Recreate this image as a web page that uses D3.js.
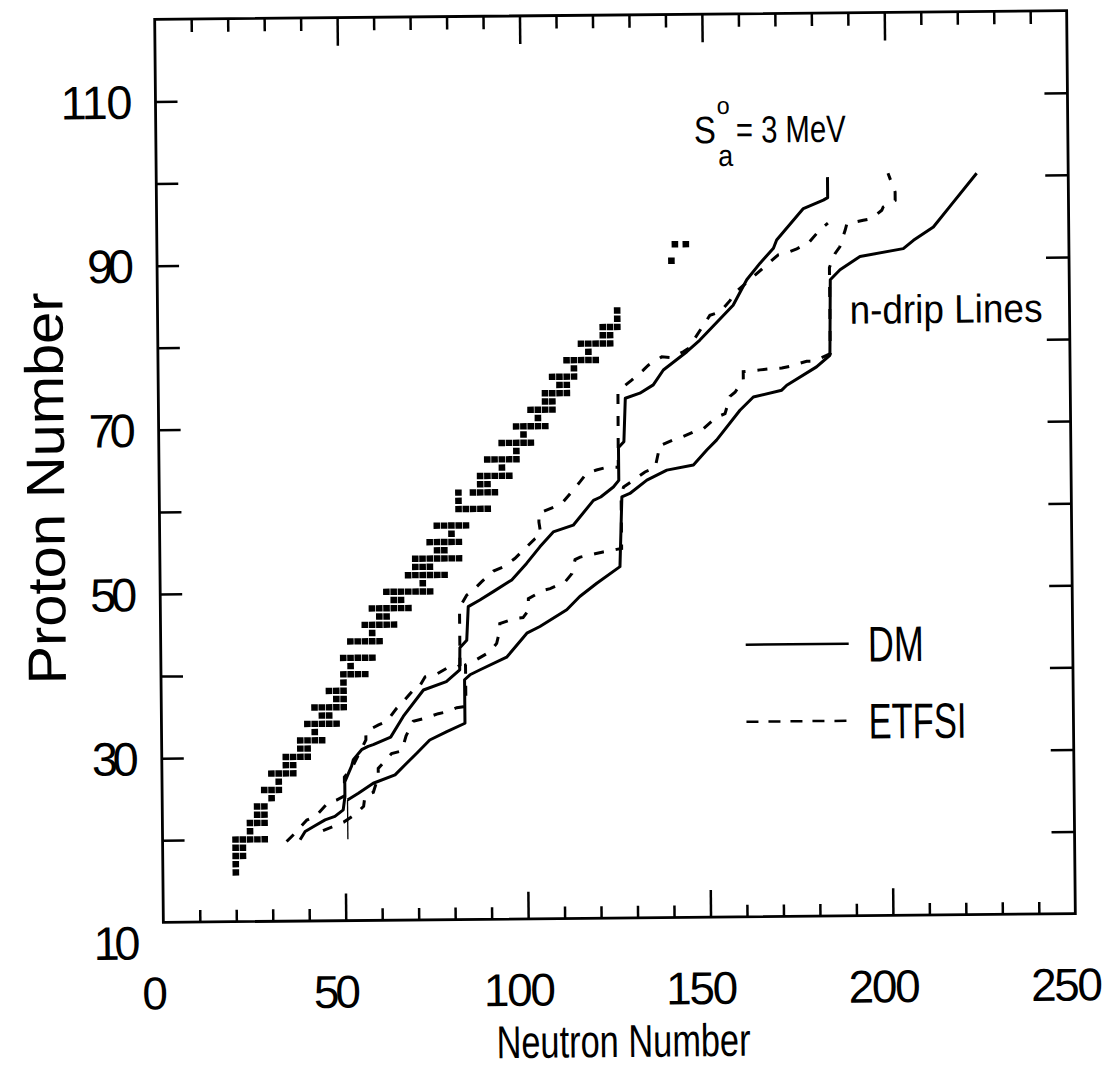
<!DOCTYPE html>
<html lang="en">
<head>
<meta charset="utf-8">
<title>n-drip lines</title>
<script src="https://d3js.org/d3.v7.min.js"></script>
<style>
  body, html { margin: 0; padding: 0; background: #fff; }
  svg { display: block; }
  text { fill: #000; font-family: "Liberation Sans Narrow", "Arial Narrow", "Liberation Sans", sans-serif; }
</style>
</head>
<body>
<div id="chart"></div>
<script>
// tick values and labels
var xMinorTicks = [10, 20, 30, 40, 60, 70, 80, 90, 110, 120, 130, 140, 160, 170, 180, 190, 210, 220, 230, 240]
var xMajorTicks = [50, 100, 150, 200]
var xLabels = [0, 50, 100, 150, 200, 250]
var yTicks = [20, 30, 40, 50, 60, 70, 80, 90, 100, 110]
var yLabels = [10, 30, 50, 70, 90, 110]

// nuclei on the path (neutron number, proton number)
var pathNuclei = [[20,16],[20,17],[20,18],[22,18],[20,19],[22,19],[20,20],[22,20],[24,20],[26,20],[28,20],
  [24,21],[24,22],[26,22],[28,22],[26,23],[28,23],[26,24],[28,24],[30,25],[28,26],[30,26],[32,26],[32,27],
  [30,28],[32,28],[34,28],[36,28],[34,29],[36,29],[34,30],[36,30],[38,30],[40,30],[38,31],[40,31],
  [38,32],[40,32],[42,32],[44,32],[42,33],[40,34],[42,34],[44,34],[46,34],[48,34],[44,35],[46,35],
  [42,36],[44,36],[46,36],[48,36],[50,36],[48,37],[50,37],[46,38],[48,38],[50,38],[50,39],
  [50,40],[52,40],[54,40],[56,40],[52,41],[50,42],[52,42],[54,42],[56,42],[58,42],
  [52,44],[54,44],[56,44],[58,44],[60,44],[58,45],[56,46],[58,46],[60,46],[62,46],[64,46],[60,47],[62,47],
  [58,48],[60,48],[62,48],[64,48],[66,48],[68,48],[64,49],[66,49],
  [62,50],[64,50],[66,50],[68,50],[70,50],[72,50],[74,50],[72,51],
  [68,52],[70,52],[72,52],[74,52],[76,52],[78,52],[70,53],[72,53],[74,53],
  [70,54],[72,54],[74,54],[76,54],[78,54],[80,54],[82,54],[76,55],[78,55],
  [74,56],[76,56],[78,56],[80,56],[82,56],[80,57],[76,58],[78,58],[80,58],[82,58],[84,58],
  [82,60],[84,60],[86,60],[88,60],[90,60],[82,61],[82,62],[86,62],[88,62],[90,62],[92,62],[88,63],[90,63],
  [88,64],[90,64],[92,64],[94,64],[96,64],[94,65],[90,66],[92,66],[94,66],[96,66],[98,66],[98,67],
  [94,68],[96,68],[98,68],[100,68],[102,68],[100,69],[98,70],[100,70],[102,70],[104,70],[106,70],[104,71],
  [102,72],[104,72],[106,72],[108,72],[106,73],[108,73],[106,74],[108,74],[110,74],[112,74],[110,75],[112,75],
  [108,76],[110,76],[112,76],[114,76],[114,77],[112,78],[114,78],[116,78],[118,78],[120,78],[118,79],
  [116,80],[118,80],[120,80],[122,80],[124,80],[122,81],[124,81],[122,82],[124,82],[126,82],[126,83],[126,84],
  [141,90],[142,92],[145,92]]

// DM, S_a = 3 MeV
var dmS3 = [[37.7,19.9],[39.1,20.9],[41.8,21.6],[44.6,22.3],[47.3,22.7],[49.6,23.5],[50.1,25.1],[50.1,26.9],
  [52,28.8],[52.5,29.6],[54.8,30.8],[56.6,31.2],[58,31.4],[62.8,32.3],[66.3,34.8],[71.9,38],[78.2,39],[81.9,40.4],
  [82,43.1],[83.9,44],[84.4,48.1],[87.6,48.9],[91.3,49.9],[96.4,51.3],[100.5,53.3],[104.2,55.3],[107.9,57.1],
  [113.4,57.9],[119,60.9],[121,61.3],[124.5,62.5],[126,63.3],[126,67.3],[127.5,68],[128,73.3],[132,73.9],
  [135.7,74.9],[138.5,76.7],[145,78.9],[148.6,80.3],[157.8,84.5],[161.6,87.6],[165.3,89.6],[169,91.4],
  [169.9,92.4],[177.3,96.2],[182.8,97.2],[184,97.5],[184,100]]

// ETFSI, S_a = 3 MeV
var etfsiS3 = [[34,19.7],[36.3,20.7],[39.6,22.3],[41.9,22.7],[45.5,24.4],[47.8,24.7],[50,25.2],[50,27.5],
  [52,28.5],[56,32],[56,33],[59.5,33.8],[61.7,34.2],[64.5,35.8],[65.9,36.4],[69.1,38],[70.5,38.2],[72.4,39.6],
  [75.1,39.8],[78.3,40.6],[81.1,40.7],[82,41],[82,48],[84,49.5],[85.8,50.1],[88.1,51.1],[91.4,52.4],[94.1,52.9],
  [97.3,53.9],[99.6,54.9],[102.9,56.3],[104.5,56.8],[104,58.3],[104,59.4],[108.5,60.2],[110.8,60.8],[113.5,62.2],
  [115.4,63.2],[117.2,64.2],[119.9,64.6],[122.7,64.9],[125.9,64.9],[126,74],[127.5,74.7],[129.8,75.5],[133,76.7],
  [134.4,77.3],[138.1,78.3],[140.8,78.2],[144,78.9],[145.4,79.3],[151.4,83.3],[154.2,83.7],[157,85.1],[158.3,86],
  [170.3,90.6],[172.6,90.8],[175.4,91.3],[178.6,92],[181.8,93.6],[184,94.4]]

// DM, neutron drip line
var dmDripStart = [[50.8,19.9],[50.8,24.7]]
var dmDrip = [[50.8,24.7],[53.8,25.5],[57.9,26.7],[63.9,27.7],[67.1,29.1],[69.9,30.3],[73.5,31.9],[78.2,32.9],
  [83.2,33.9],[83.2,39.2],[84.7,39.8],[87.5,40.4],[94.8,41.9],[100.4,44.8],[104,45.6],[111.4,47.6],[115,49.2],
  [119.7,50.8],[126.1,52.8],[126.8,61.3],[129,61.7],[133.7,63.3],[139.2,64.5],[146.5,65.1],[150.2,66.9],
  [152.9,68.1],[159.4,71.7],[163.1,73.3],[170.9,74.1],[172.3,74.7],[180.5,76.9],[184.2,78.3],[184.5,87.5],
  [187.2,88.7],[192.7,90.3],[204.6,91.2],[207.4,92.2],[212.9,93.8],[217.5,96.3],[224.9,100.3]]

// ETFSI, neutron drip line
var etfsiDrip = [[44,21],[46.9,21.5],[49.7,22],[52.8,22.9],[55.2,23.9],[55.6,25.2],[57.9,25.6],[59.3,27.5],
  [59.3,28.5],[63,30.3],[65.8,30.6],[67,32.4],[69,34.2],[71.8,34.5],[75.9,35.1],[78.2,35.3],[81,35.8],[82.8,35.9],
  [83.5,36],[83.5,41],[86,41.5],[90.3,42.6],[92.1,43.6],[93,45.2],[93,46],[97.2,46.6],[99.4,46.7],[100.9,47.6],
  [100.9,49],[105,50],[106.9,50.2],[111,51],[112.9,52],[113.8,53.7],[115.2,54],[119.3,54.4],[121.5,54.6],
  [125.2,54.9],[126.6,55],[126.6,61.5],[127.3,62.5],[130,63.3],[133.2,64.3],[136,64.8],[136.9,66.6],[136.9,67.4],
  [141.1,68.2],[143.4,68.5],[146.5,69.1],[149.3,69.5],[153,70.9],[155.3,71.3],[156.7,73.4],[158.1,73.9],
  [160.4,75.4],[160.4,76.4],[165,76.6],[167.3,76.7],[171,76.8],[173.2,77],[177.8,77.6],[179.7,77.6],[183.3,78.3],
  [184.3,78.5],[184.3,89],[185.9,90.7],[187.2,91.5],[188.7,93.5],[189.2,94.3],[193.7,94.7],[196,94.9],
  [198.8,95.9],[199.2,96.3],[202.5,97.1],[202.5,98.1],[200.6,100.4]]

var W = 1115, H = 1067
var margin = {top: 15, right: 44, bottom: 149, left: 159}

var svg = d3.select("#chart").append("svg")
  .attr("width", W)
  .attr("height", H)

svg.append("rect").attr("width", W).attr("height", H).attr("fill", "#fff")

// the scan is slightly rotated
var g = svg.append("g")
  .attr("transform", "rotate(-0.55,615,466)")

var x = d3.scaleLinear().domain([0, 250]).range([margin.left, W - margin.right])
var y = d3.scaleLinear().domain([10, 120]).range([H - margin.bottom, margin.top])

var tickStyle = function (sel) {
  sel.select(".domain").remove()
  sel.selectAll("line").attr("stroke", "#000").attr("stroke-width", 2.5)
}

// ticks, pointing inward
g.append("g").attr("transform", "translate(0," + y(10) + ")")
  .call(d3.axisBottom(x).tickValues(xMinorTicks).tickSize(-12).tickFormat(""))
  .call(tickStyle)
g.append("g").attr("transform", "translate(0," + y(10) + ")")
  .call(d3.axisBottom(x).tickValues(xMajorTicks).tickSize(-27).tickFormat(""))
  .call(tickStyle)
g.append("g").attr("transform", "translate(0," + y(120) + ")")
  .call(d3.axisTop(x).tickValues(xMinorTicks).tickSize(-13).tickFormat(""))
  .call(tickStyle)
g.append("g").attr("transform", "translate(0," + y(120) + ")")
  .call(d3.axisTop(x).tickValues(xMajorTicks).tickSize(-28).tickFormat(""))
  .call(tickStyle)
g.append("g").attr("transform", "translate(" + x(0) + ",0)")
  .call(d3.axisLeft(y).tickValues(yTicks).tickSize(-22).tickFormat(""))
  .call(tickStyle)
g.append("g").attr("transform", "translate(" + x(250) + ",0)")
  .call(d3.axisRight(y).tickValues(yTicks).tickSize(-23).tickFormat(""))
  .call(tickStyle)

// frame
g.append("rect")
  .attr("x", x(0)).attr("y", y(120))
  .attr("width", x(250) - x(0)).attr("height", y(10) - y(120))
  .attr("fill", "none").attr("stroke", "#000").attr("stroke-width", 2.8)

// tick labels
g.selectAll("text.ylab").data(yLabels).enter().append("text")
  .attr("class", "ylab")
  .attr("x", 136)
  .attr("y", d => y(d) + (d === 10 ? 37 : 17))
  .attr("text-anchor", "end")
  .attr("font-size", 47)
  .attr("font-family", "Liberation Sans, Arial, sans-serif")
  .attr("textLength", d => d >= 100 ? 72 : 47)
  .attr("lengthAdjust", "spacing")
  .text(d => d)

g.selectAll("text.xlab").data(xLabels).enter().append("text")
  .attr("class", "xlab")
  .attr("x", d => x(d) - 9)
  .attr("y", 1005)
  .attr("text-anchor", "middle")
  .attr("font-size", 46)
  .attr("font-family", "Liberation Sans, Arial, sans-serif")
  .attr("textLength", d => d >= 100 ? 72 : (d === 0 ? 22 : 47))
  .attr("lengthAdjust", "spacing")
  .text(d => d)

// axis titles
g.append("text")
  .attr("x", 618).attr("y", 1057)
  .attr("text-anchor", "middle")
  .attr("font-size", 46)
  .attr("textLength", 254)
  .attr("lengthAdjust", "spacingAndGlyphs")
  .text("Neutron Number")

g.append("text")
  .attr("transform", "translate(64,483) rotate(-90)")
  .attr("text-anchor", "middle")
  .attr("font-size", 54)
  .attr("textLength", 392)
  .attr("lengthAdjust", "spacingAndGlyphs")
  .text("Proton Number")

// nuclei
g.selectAll("rect.nuc").data(pathNuclei).enter().append("rect")
  .attr("class", "nuc")
  .attr("x", d => x(d[0]) - 3.3)
  .attr("y", d => y(d[1]) - 3.2)
  .attr("width", 6.6)
  .attr("height", 6.4)
  .attr("fill", "#000")

var line = d3.line()
  .x(d => x(d[0]))
  .y(d => y(d[1]))

g.append("path").attr("d", line(dmS3))
  .attr("fill", "none").attr("stroke", "#000").attr("stroke-width", 3).attr("stroke-linejoin", "round")
g.append("path").attr("d", line(dmDrip))
  .attr("fill", "none").attr("stroke", "#000").attr("stroke-width", 3).attr("stroke-linejoin", "round")
g.append("path").attr("d", line(dmDripStart))
  .attr("fill", "none").attr("stroke", "#000").attr("stroke-width", 1.3)
g.append("path").attr("d", line(etfsiS3))
  .attr("fill", "none").attr("stroke", "#000").attr("stroke-width", 3).attr("stroke-dasharray", "10,12")
g.append("path").attr("d", line(etfsiDrip))
  .attr("fill", "none").attr("stroke", "#000").attr("stroke-width", 3).attr("stroke-dasharray", "10,12")

// annotations: S with stacked superscript o and subscript a
var saParts = [
  {t: "S", x: 697, y: 144, size: 38, w: 22},
  {t: "o", x: 720, y: 115, size: 24, w: 13},
  {t: "a", x: 721, y: 167, size: 30, w: 15},
  {t: "= 3 MeV", x: 739, y: 144, size: 38, w: 110}
]
saParts.forEach(function (p) {
  g.append("text")
    .attr("x", p.x).attr("y", p.y)
    .attr("font-size", p.size)
    .attr("textLength", p.w)
    .attr("lengthAdjust", "spacingAndGlyphs")
    .text(p.t)
})

g.append("text")
  .attr("x", 851).attr("y", 326)
  .attr("font-size", 40)
  .attr("textLength", 193)
  .attr("lengthAdjust", "spacingAndGlyphs")
  .text("n-drip  Lines")

// legend
var legend = [
  {label: "DM", dash: null, yPos: 646, w: 56},
  {label: "ETFSI", dash: "12,10", yPos: 723, w: 98}
]
legend.forEach(function (d) {
  g.append("line")
    .attr("x1", 744).attr("x2", 847)
    .attr("y1", d.yPos).attr("y2", d.yPos)
    .attr("stroke", "#000").attr("stroke-width", 2.5)
    .attr("stroke-dasharray", d.dash)
  g.append("text")
    .attr("x", 866).attr("y", d.yPos + 18)
    .attr("font-size", 50)
    .attr("textLength", d.w)
    .attr("lengthAdjust", "spacingAndGlyphs")
    .text(d.label)
})
</script>
</body>
</html>
